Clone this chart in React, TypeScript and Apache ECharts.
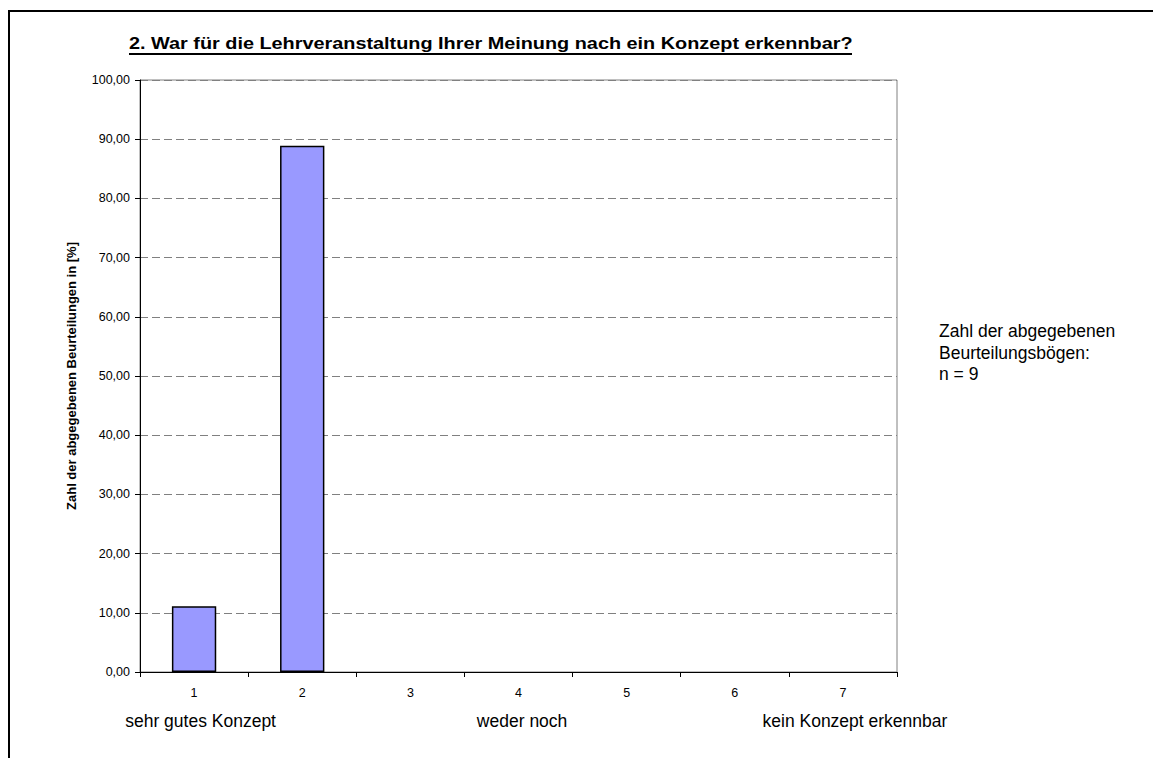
import React, { useEffect, useRef } from "react";
import * as echarts from "echarts";

const categories = ["1", "2", "3", "4", "5", "6", "7"];
const values = [11.11, 88.89, 0, 0, 0, 0, 0];
const titleText = "2. War für die Lehrveranstaltung Ihrer Meinung nach ein Konzept erkennbar?";
const yAxisName = "Zahl der abgegebenen Beurteilungen in [%]";
const scaleLabels = ["sehr gutes Konzept", "weder noch", "kein Konzept erkennbar"];
const noteLines = ["Zahl der abgegebenen", "Beurteilungsbögen:", "n = 9"];

const FONT = "'Liberation Sans', Arial, Helvetica, sans-serif";

export default function App() {
  const ref = useRef<HTMLDivElement>(null);
  useEffect(() => {
    if (!ref.current) return;
    const chart = echarts.init(ref.current, undefined, { renderer: "svg" });
    const gridLeft = 140;
    const gridRight = 897;
    const catW = (gridRight - gridLeft) / categories.length;
    const scalePos = [0, 3, 6];
    const scaleOffsets = [6.5, 3.6, 12];
    chart.setOption({
      animation: false,
      backgroundColor: "#ffffff",
      textStyle: { fontFamily: FONT },
      grid: {
        left: gridLeft,
        top: 80,
        right: 1153 - gridRight,
        bottom: 758 - 672,
        show: true,
        borderColor: "#808080",
        borderWidth: 1,
        backgroundColor: "transparent",
      },
      xAxis: {
        type: "category",
        data: categories,
        boundaryGap: true,
        axisLine: { show: true, lineStyle: { color: "#000000", width: 1 } },
        axisTick: { show: true, alignWithLabel: false, length: 5, lineStyle: { color: "#000000" } },
        axisLabel: { color: "#000000", fontSize: 12.5, margin: 14, fontFamily: FONT },
        splitLine: { show: false },
      },
      yAxis: {
        type: "value",
        min: 0,
        max: 100,
        interval: 10,
        name: yAxisName,
        nameLocation: "middle",
        nameGap: 62,
        nameTextStyle: { fontWeight: "bold", fontSize: 13, color: "#000000", fontFamily: FONT },
        axisLine: { show: true, lineStyle: { color: "#000000", width: 1 } },
        axisTick: { show: true, length: 5, lineStyle: { color: "#000000" } },
        axisLabel: {
          color: "#000000",
          fontSize: 12.5,
          margin: 10,
          fontFamily: FONT,
          formatter: (v: number) => v.toFixed(2).replace(".", ","),
        },
        splitLine: { show: true, lineStyle: { color: "#808080", type: [8, 4], width: 1 } },
      },
      series: [
        {
          type: "bar",
          data: values.map((v) => ({
            value: v,
            itemStyle: v === 0 ? { borderWidth: 0 } : undefined,
          })),
          barWidth: "41%",
          itemStyle: { color: "#9999FF", borderColor: "#000000", borderWidth: 1.5 },
          silent: true,
        },
      ],
      graphic: [
        {
          type: "polyline",
          shape: { points: [[9, 758], [9, 11], [1153, 11]] },
          style: { stroke: "#000000", lineWidth: 2, fill: "none" },
          silent: true,
        },
        {
          type: "text",
          x: 129,
          y: 43,
          scaleX: 1.168,
          style: {
            text: titleText,
            font: `bold 17px ${FONT}`,
            fill: "#000000",
            align: "left",
            verticalAlign: "middle",
          },
          silent: true,
        },
        {
          type: "line",
          shape: { x1: 129, y1: 54, x2: 852, y2: 54 },
          style: { stroke: "#000000", lineWidth: 2 },
          silent: true,
        },
        ...scaleLabels.map((t, i) => ({
          type: "text",
          x: gridLeft + catW * (scalePos[i] + 0.5) + scaleOffsets[i],
          y: 721,
          style: {
            text: t,
            font: `17.5px ${FONT}`,
            fill: "#000000",
            align: "center",
            verticalAlign: "middle",
          },
          silent: true,
        })),
        ...noteLines.map((t, i) => ({
          type: "text",
          x: 939,
          y: 331 + i * 21.5,
          style: {
            text: t,
            font: `17.5px ${FONT}`,
            fill: "#000000",
            align: "left",
            verticalAlign: "middle",
          },
          silent: true,
        })),
      ],
    });
    return () => chart.dispose();
  }, []);
  return (
    <div
      ref={ref}
      style={{ position: "absolute", left: 0, top: 0, width: 1153, height: 758, background: "#fff" }}
    />
  );
}
